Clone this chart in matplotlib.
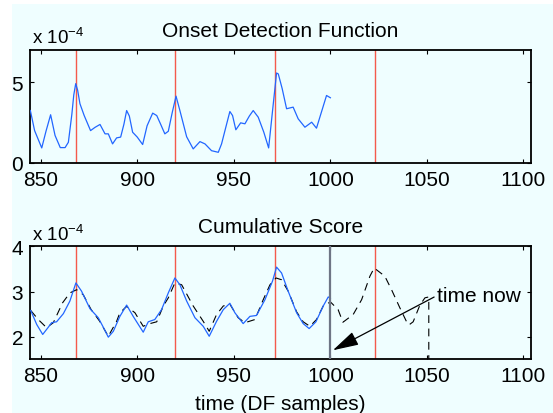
import matplotlib
matplotlib.use('Agg')
import matplotlib.pyplot as plt
from matplotlib.patches import Rectangle

plt.rcParams['font.family'] = ['Liberation Sans', 'DejaVu Sans']
plt.rcParams['mathtext.fontset'] = 'custom'
plt.rcParams['mathtext.rm'] = 'Liberation Sans'
plt.rcParams['mathtext.sf'] = 'Liberation Sans'
plt.rcParams['mathtext.default'] = 'regular'

# values in units of 1e-4
odf_x = [844.5, 846.7, 850.4, 852.6, 855.0, 857.3, 860.0, 862.5, 864.2, 866.0, 867.0, 868.0,
         869.0, 870.2, 872.4, 875.7, 878.0, 880.6, 883.2, 884.9, 887.1, 889.2, 891.3, 893.0,
         894.4, 895.8, 897.5, 899.9, 902.7, 905.0, 907.9, 910.0, 912.0, 914.2, 916.0, 918.0,
         920.0, 922.0, 925.5, 928.9, 932.4, 935.0, 938.4, 941.9, 943.6, 946.0, 947.9, 949.3,
         951.0, 953.5, 955.7, 958.0, 960.0, 962.6, 965.5, 968.0, 970.0, 972.1, 973.0, 975.0,
         977.3, 980.7, 983.3, 986.8, 990.3, 992.8, 995.5, 998.0, 1000.0]
odf_y = [3.24, 2.0, 0.93, 1.96, 2.98, 1.7, 0.95, 0.95, 1.28, 3.0, 4.2, 4.9,
         4.5, 3.66, 2.93, 2.0, 2.2, 2.38, 1.8, 1.8, 1.18, 1.55, 1.6, 2.4,
         3.24, 2.9, 1.9, 1.6, 1.14, 2.3, 3.08, 2.93, 2.4, 1.8, 1.96, 3.1,
         4.13, 3.24, 1.62, 0.87, 1.32, 1.18, 0.76, 0.66, 1.18, 2.3, 3.18, 2.93,
         2.05, 2.48, 2.42, 2.9, 3.24, 2.83, 1.9, 0.93, 3.2, 5.56, 5.5, 4.6,
         3.35, 3.45, 2.73, 2.21, 2.52, 2.15, 3.2, 4.17, 4.03]

cs_x = [844.7, 847.8, 850.9, 853.8, 855.5, 858.1, 861.6, 865.0, 868.1, 871.0, 875.4,
        879.7, 882.3, 884.9, 887.5, 890.9, 894.4, 897.8, 903.0, 905.6, 909.0, 912.5,
        916.0, 919.4, 922.0, 925.5, 929.8, 934.1, 937.2, 941.0, 944.5, 947.9, 950.5,
        954.8, 958.3, 961.7, 966.1, 970.0, 972.1, 974.7, 978.1, 982.5, 985.9, 989.0,
        992.5, 996.3, 998.9, 1000.0]
cs_y = [2.58, 2.27, 2.05, 2.21, 2.31, 2.33, 2.51, 2.79, 3.19, 3.01, 2.62,
        2.42, 2.21, 1.99, 2.12, 2.45, 2.70, 2.45, 2.10, 2.33, 2.38, 2.60,
        2.97, 3.30, 3.15, 2.79, 2.42, 2.23, 2.01, 2.34, 2.60, 2.74, 2.53,
        2.29, 2.45, 2.47, 2.82, 3.23, 3.54, 3.41, 3.01, 2.53, 2.29, 2.18,
        2.33, 2.68, 2.88, 2.85]

fut_x = [844.7, 848.6, 852.9, 856.4, 861.2, 865.0, 868.5, 871.9, 876.0, 880.3, 884.9,
         889.2, 890.9, 894.4, 898.7, 903.0, 905.6, 910.0, 913.4, 916.0, 919.4, 922.9,
         928.9, 934.1, 937.2, 941.0, 944.5, 947.9, 952.2, 955.7, 960.9, 965.2, 968.7,
         971.8, 974.7, 978.1, 982.5, 985.9, 989.4, 992.8, 996.3, 1000.0, 1004.0, 1006.5,
         1011.8, 1016.2, 1020.5, 1022.7, 1028.2, 1031.7, 1036.0, 1039.5, 1040.7, 1042.9,
         1046.4, 1049.0, 1051.0, 1051.0]
fut_y = [2.58, 2.38, 2.20, 2.31, 2.75, 2.97, 3.04, 2.93, 2.60, 2.35, 2.01,
         2.34, 2.53, 2.67, 2.53, 2.23, 2.28, 2.33, 2.68, 2.86, 3.19, 3.15,
         2.68, 2.34, 2.12, 2.49, 2.68, 2.72, 2.42, 2.31, 2.38, 2.82, 3.15,
         3.30, 3.26, 3.01, 2.55, 2.33, 2.23, 2.38, 2.68, 2.77, 2.60, 2.32,
         2.49, 2.82, 3.34, 3.52, 3.34, 3.04, 2.64, 2.33, 2.26, 2.33,
         2.70, 2.86, 2.88, 0.0]

beats = [868.0, 919.3, 971.2, 1023.2]
now = 1000
xticks = [850, 900, 950, 1000, 1050, 1100]

bg = '#effeff'
red = '#f45a4c'
blue = '#2266ff'

fig = plt.figure(figsize=(5.53, 4.14), dpi=100)
fig.patch.set_facecolor('white')
fig.add_artist(Rectangle((12 / 553, 0), 1, 1 - 5 / 414, transform=fig.transFigure,
                         facecolor=bg, edgecolor='none', zorder=-10))

ax1 = fig.add_axes([0.0542, 0.6039, 0.9054, 0.2737])
ax2 = fig.add_axes([0.0542, 0.1297, 0.9054, 0.2729])

for ax in (ax1, ax2):
    ax.set_facecolor(bg)
    for b in beats:
        ax.axvline(b, color=red, lw=1.0, zorder=1)
    ax.set_xlim(844.3, 1103.8)
    ax.set_xticks(xticks)
    ax.tick_params(direction='in', top=True, right=True, length=3, width=0.8,
                   labelsize=15, pad=5)
    for s in ax.spines.values():
        s.set_linewidth(1.3)
    ax.annotate('x 10$^{-4}$', xy=(0, 1), xycoords='axes fraction', xytext=(1.2, 4.8),
                textcoords='offset points', ha='left', va='baseline', fontsize=13.5)

ax1.plot(odf_x, odf_y, color=blue, lw=0.9, zorder=3)
ax1.set_ylim(0, 7)
ax1.set_yticks([0, 5])
ax1.set_title('Onset Detection Function', fontsize=15, pad=10)

ax2.plot(fut_x, fut_y, color='k', lw=0.8, dashes=(7, 5), zorder=2)
ax2.plot(cs_x, cs_y, color=blue, lw=0.9, zorder=3)
ax2.axvline(now, color='#6e7585', lw=1.6, zorder=4)
ax2.set_ylim(1.5, 4)
ax2.set_yticks([2, 3, 4])
ax2.set_title('Cumulative Score', fontsize=15, pad=10)
ax2.set_xlabel('time (DF samples)', fontsize=15, labelpad=6)
ax2.annotate('time now', xy=(1001.3, 1.70), xytext=(1055.2, 2.91), fontsize=15,
             ha='left', va='center', zorder=5,
             arrowprops=dict(arrowstyle='-|>,head_length=0.8,head_width=0.22',
                             color='k', lw=0.9, shrinkA=0, shrinkB=0,
                             relpos=(0, 0.5), mutation_scale=20))

fig.savefig('out.png', dpi=100, facecolor=fig.get_facecolor())
